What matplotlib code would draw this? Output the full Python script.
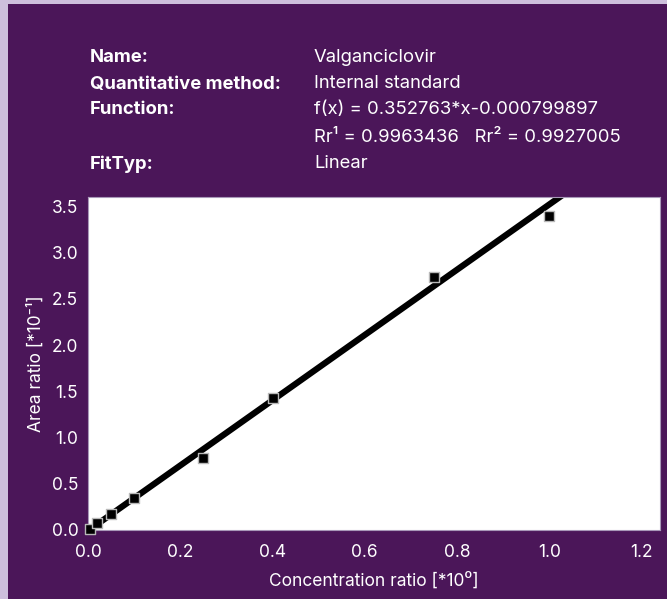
import numpy as np
import matplotlib.pyplot as plt
from matplotlib.patches import Rectangle

# calibration data (concentration ratio, area ratio *10^-1)
konz = [0.005, 0.02, 0.05, 0.1, 0.25, 0.4, 0.75, 1.0]
flaeche = [0.01, 0.08, 0.17, 0.35, 0.78, 1.43, 2.73, 3.39]

steigung = 0.352763
achsenabschnitt = -0.000799897

x_ticks = [0.0, 0.2, 0.4, 0.6, 0.8, 1.0, 1.2]
y_ticks = [0.0, 0.5, 1.0, 1.5, 2.0, 2.5, 3.0, 3.5]

lila = '#4b1659'
hell = '#cdbfdc'
kopf_font = ['Inter', 'DejaVu Sans']
achs_font = ['Inter', 'DejaVu Sans']

fig = plt.figure(figsize=(6.67, 5.99), dpi=100, facecolor=hell)
fig.patches.append(Rectangle((8 / 667, 0), 1, 1 - 4 / 599, transform=fig.transFigure,
                             facecolor=lila, edgecolor='none', zorder=-5))

# header block
zeilen = [
    ("Name:", "Valganciclovir", 58),
    ("Quantitative method:", "Internal standard", 84),
    ("Function:", f"f(x) = {steigung}*x{achsenabschnitt}", 110),
    ("", "Rr\u00b9 = 0.9963436   Rr\u00b2 = 0.9927005", 137),
    ("FitTyp:", "Linear", 164),
]
for links, rechts, y in zeilen:
    yf = 1 - y / 599
    if links:
        fig.text(90 / 667, yf, links, color='white', fontsize=13.3, fontweight='bold',
                 family=kopf_font, va='center', ha='left')
    fig.text(314 / 667, yf, rechts, color='white', fontsize=13.3,
             family=kopf_font, va='center', ha='left')

ax = fig.add_axes([88 / 667, 1 - 530 / 599, (660 - 88) / 667, (530 - 197) / 599])
ax.set_facecolor('white')

xs = np.array([0.0, 1.24])
ax.plot(xs, (steigung * xs + achsenabschnitt) * 10, color='black', lw=4.5,
        solid_capstyle='butt', zorder=2)
ax.scatter(konz, flaeche, marker='s', s=42, color='black', edgecolors='#b8b8b8',
           linewidths=1, zorder=3, clip_on=False)

ax.set_xlim(0, 1.24)
ax.set_ylim(0, 3.6)
ax.set_xticks(x_ticks)
ax.set_yticks(y_ticks)
ax.set_xticklabels([f"{v:.1f}" for v in x_ticks], family=achs_font)
ax.set_yticklabels([f"{v:.1f}" for v in y_ticks], family=achs_font)
ax.tick_params(length=0, colors='white', labelsize=12.5)
ax.tick_params(axis='x', pad=10)
ax.tick_params(axis='y', pad=7)
for s in ax.spines.values():
    s.set_color('#a898b8')
    s.set_linewidth(0.8)

ax.set_xlabel("Concentration ratio [*10\u2070]", color='white', fontsize=12.5,
              family=achs_font, labelpad=8)
ax.set_ylabel("Area ratio [*10\u207b\u00b9]", color='white', fontsize=12.5,
              family=achs_font, labelpad=5)

fig.savefig("out.png", dpi=100, facecolor=fig.get_facecolor())
